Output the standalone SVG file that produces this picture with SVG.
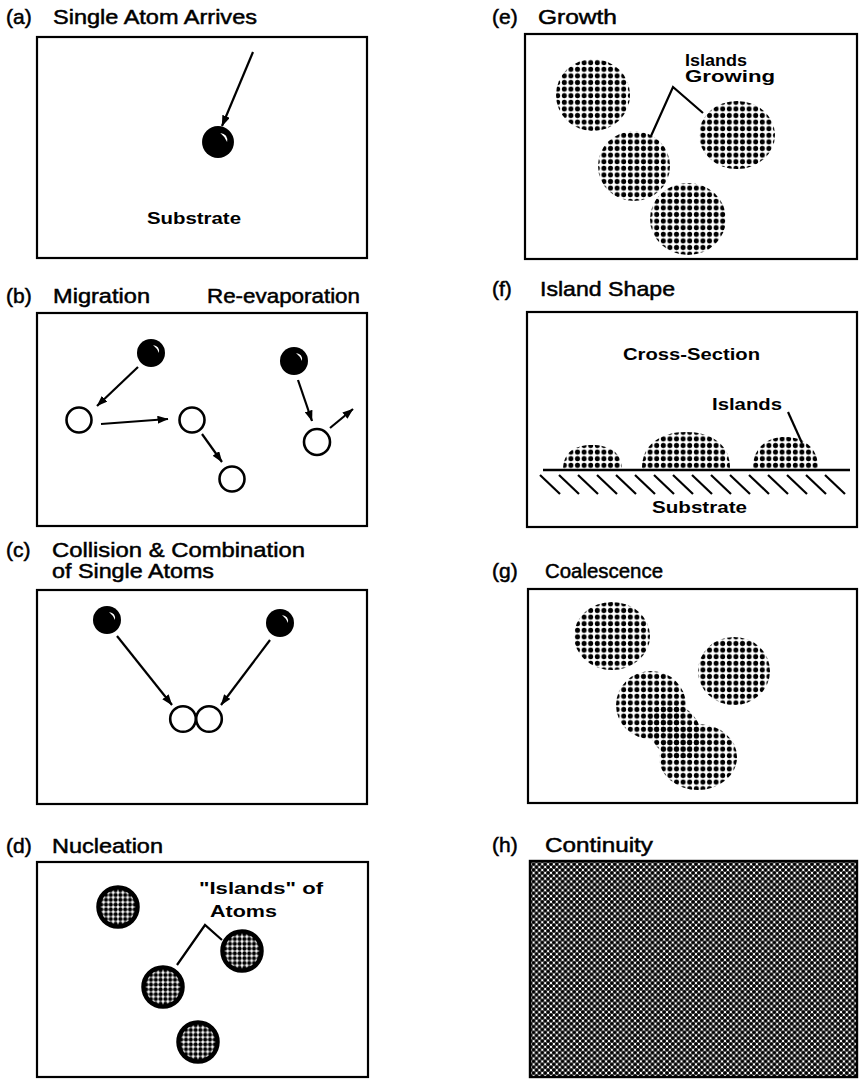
<svg xmlns="http://www.w3.org/2000/svg" xmlns:xlink="http://www.w3.org/1999/xlink" width="859" height="1079" viewBox="0 0 859 1079">
  <style>
    .title { font-family: "Liberation Sans", Arial, sans-serif; font-size: 21px; fill: #000; stroke: #000; stroke-width: 0.5; }
    .label { font-family: "Liberation Sans", Arial, sans-serif; font-size: 16.5px; font-weight: bold; fill: #000; }
    .frame { fill: #fff; stroke: #000; stroke-width: 2.2; }
    .open { fill: #fff; stroke: #000; stroke-width: 2.6; }
    .arrow { fill: none; stroke: #000; stroke-width: 2.2; marker-end: url(#head); }
    .leader { fill: none; stroke: #000; stroke-width: 2.2; stroke-linejoin: miter; }
    .dots { fill: url(#dotFill); }
    .hatch { stroke: #000; stroke-width: 2.2; }
  </style>
  <defs>
    <marker id="head" viewBox="0 0 11 8" refX="10.5" refY="4" markerWidth="11" markerHeight="8" markerUnits="userSpaceOnUse" orient="auto">
      <path d="M0,0 L11,4 L0,8 Z" fill="#000"/>
    </marker>
    <!-- halftone dots used for the growing islands -->
    <pattern id="dotFill" width="6.6" height="6.6" patternUnits="userSpaceOnUse">
      <circle cx="3.3" cy="3.3" r="2.5" fill="#000"/>
    </pattern>
    <!-- tight dot grid for the small nuclei -->
    <pattern id="nucleusFill" width="4.8" height="4.8" patternUnits="userSpaceOnUse">
      <rect width="4.8" height="4.8" fill="#fff"/>
      <circle cx="2.4" cy="2.4" r="2.1" fill="#000"/>
    </pattern>
    <!-- staggered dense dots for the continuous film -->
    <pattern id="filmFill" width="5.8" height="5.8" patternUnits="userSpaceOnUse">
      <rect width="5.8" height="5.8" fill="#fff"/>
      <circle cx="0" cy="0" r="2.0" fill="#000"/>
      <circle cx="5.8" cy="0" r="2.0" fill="#000"/>
      <circle cx="0" cy="5.8" r="2.0" fill="#000"/>
      <circle cx="5.8" cy="5.8" r="2.0" fill="#000"/>
      <circle cx="2.9" cy="2.9" r="2.0" fill="#000"/>
    </pattern>
    <!-- single arriving atom: solid ball with a crescent highlight -->
    <g id="atom">
      <circle r="14" fill="#000"/>
      <path d="M2,-8 Q9,-7 8,0 Q6,-5 2,-8 Z" fill="#fff"/>
    </g>
    <g id="nucleus">
      <circle r="19.5" fill="url(#nucleusFill)" stroke="#000" stroke-width="4.5"/>
    </g>
  </defs>

  <rect width="859" height="1079" fill="#fff"/>

  <!-- (a) single atom arrives -->
  <g id="panel-a">
    <text class="title" x="6" y="24">(a)</text>
    <text class="title" x="53" y="24" textLength="204" lengthAdjust="spacingAndGlyphs">Single Atom Arrives</text>
    <rect class="frame" x="37" y="37" width="330" height="221"/>
    <g id="a-atom"><use xlink:href="#atom" transform="translate(218,142) scale(1.14)"/></g>
    <text class="label" x="147" y="224" textLength="94" lengthAdjust="spacingAndGlyphs">Substrate</text>
  </g>

  <!-- (b) migration and re-evaporation -->
  <g id="panel-b">
    <text class="title" x="6" y="303">(b)</text>
    <text class="title" x="53" y="303" textLength="97" lengthAdjust="spacingAndGlyphs">Migration</text>
    <text class="title" x="207" y="303" textLength="153" lengthAdjust="spacingAndGlyphs">Re-evaporation</text>
    <rect class="frame" x="37" y="313" width="330" height="213"/>
    <g id="b-atom-1"><use xlink:href="#atom" x="151" y="353"/></g>
    <g id="b-site-1"><circle class="open" cx="79" cy="420" r="12.5"/></g>
    <g id="b-site-2"><circle class="open" cx="192" cy="420" r="12.5"/></g>
    <g id="b-site-3"><circle class="open" cx="232" cy="479" r="12.5"/></g>
    <g id="b-atom-2"><use xlink:href="#atom" x="294" y="361"/></g>
    <g id="b-site-4"><circle class="open" cx="317" cy="442" r="13"/></g>
  </g>

  <!-- (c) collision and combination -->
  <g id="panel-c">
    <text class="title" x="6" y="557">(c)</text>
    <text class="title" x="52" y="557" textLength="253" lengthAdjust="spacingAndGlyphs">Collision &amp; Combination</text>
    <text class="title" x="52" y="578" textLength="162" lengthAdjust="spacingAndGlyphs">of Single Atoms</text>
    <rect class="frame" x="37" y="590" width="330" height="214"/>
    <g id="c-atom-1"><use xlink:href="#atom" x="107" y="620"/></g>
    <g id="c-atom-2"><use xlink:href="#atom" x="280" y="623"/></g>
    <g id="c-pair">
      <circle class="open" cx="183" cy="719" r="12.8"/>
      <circle class="open" cx="209" cy="719" r="12.8"/>
    </g>
  </g>

  <!-- (d) nucleation -->
  <g id="panel-d">
    <text class="title" x="6" y="853">(d)</text>
    <text class="title" x="52" y="853" textLength="111" lengthAdjust="spacingAndGlyphs">Nucleation</text>
    <rect class="frame" x="37" y="862" width="331" height="215"/>
    <g id="d-island-1"><use xlink:href="#nucleus" x="118" y="907"/></g>
    <g id="d-island-2"><use xlink:href="#nucleus" x="242" y="951"/></g>
    <g id="d-island-3"><use xlink:href="#nucleus" x="163" y="987"/></g>
    <g id="d-island-4"><use xlink:href="#nucleus" x="198" y="1042"/></g>
    <text class="label" x="199" y="894" textLength="124" lengthAdjust="spacingAndGlyphs">"Islands" of</text>
    <text class="label" x="210" y="917" textLength="67" lengthAdjust="spacingAndGlyphs">Atoms</text>
  </g>

  <!-- (e) growth -->
  <g id="panel-e">
    <text class="title" x="492" y="24">(e)</text>
    <text class="title" x="538" y="24" textLength="79" lengthAdjust="spacingAndGlyphs">Growth</text>
    <rect class="frame" x="525" y="34" width="332" height="225"/>
    <g id="e-island-1"><ellipse class="dots" cx="593" cy="95" rx="37" ry="36"/></g>
    <g id="e-island-2"><ellipse class="dots" cx="634" cy="166" rx="36" ry="35"/></g>
    <g id="e-island-3"><ellipse class="dots" cx="737" cy="135" rx="38" ry="34"/></g>
    <g id="e-island-4"><ellipse class="dots" cx="688" cy="219" rx="38" ry="36"/></g>
    <text class="label" x="685" y="66" textLength="62" lengthAdjust="spacingAndGlyphs">Islands</text>
    <text class="label" x="685" y="82" textLength="90" lengthAdjust="spacingAndGlyphs">Growing</text>
  </g>

  <!-- (f) island shape, cross-section -->
  <g id="panel-f">
    <text class="title" x="492" y="296">(f)</text>
    <text class="title" x="540" y="296" textLength="135" lengthAdjust="spacingAndGlyphs">Island Shape</text>
    <rect class="frame" x="527" y="312" width="330" height="215"/>
    <text class="label" x="623" y="360" textLength="137" lengthAdjust="spacingAndGlyphs">Cross-Section</text>
    <text class="label" x="712" y="410" textLength="70" lengthAdjust="spacingAndGlyphs">Islands</text>
    <g id="f-island-1"><path class="dots" d="M563,470 C563,452 575,445 592,445 C609,445 622,452 622,470 Z"/></g>
    <g id="f-island-2"><path class="dots" d="M642,470 C641,445 660,432 686,432 C712,432 731,445 730,470 Z"/></g>
    <g id="f-island-3"><path class="dots" d="M753,470 C752,447 768,437 785,437 C803,437 819,447 818,470 Z"/></g>
    <g id="f-substrate">
      <line x1="543" y1="470" x2="850" y2="470" stroke="#000" stroke-width="2.6"/>
      <g class="hatch">
        <line x1="540" y1="475" x2="560" y2="494"/>
        <line x1="559" y1="475" x2="579" y2="494"/>
        <line x1="578" y1="475" x2="598" y2="494"/>
        <line x1="597" y1="475" x2="617" y2="494"/>
        <line x1="616" y1="475" x2="636" y2="494"/>
        <line x1="635" y1="475" x2="655" y2="494"/>
        <line x1="654" y1="475" x2="674" y2="494"/>
        <line x1="673" y1="475" x2="693" y2="494"/>
        <line x1="692" y1="475" x2="712" y2="494"/>
        <line x1="711" y1="475" x2="731" y2="494"/>
        <line x1="730" y1="475" x2="750" y2="494"/>
        <line x1="749" y1="475" x2="769" y2="494"/>
        <line x1="768" y1="475" x2="788" y2="494"/>
        <line x1="787" y1="475" x2="807" y2="494"/>
        <line x1="806" y1="475" x2="826" y2="494"/>
        <line x1="825" y1="475" x2="845" y2="494"/>
      </g>
      <text class="label" x="652" y="513" textLength="95" lengthAdjust="spacingAndGlyphs">Substrate</text>
    </g>
  </g>

  <!-- (g) coalescence -->
  <g id="panel-g">
    <text class="title" x="492" y="578">(g)</text>
    <text class="title" x="545" y="578" textLength="118" lengthAdjust="spacingAndGlyphs">Coalescence</text>
    <rect class="frame" x="528" y="589" width="329" height="214"/>
    <g id="g-island-1"><ellipse class="dots" cx="612" cy="636" rx="38" ry="34"/></g>
    <g id="g-island-2"><ellipse class="dots" cx="734" cy="671" rx="36" ry="34"/></g>
    <g id="g-island-merged">
      <ellipse class="dots" cx="651" cy="705" rx="35" ry="34"/>
      <ellipse class="dots" cx="698" cy="757" rx="39" ry="33"/>
      <!-- neck joining the two lobes, tilted along their axis -->
      <path class="dots" d="M654.9,708.7 A30,24 48 1,1 695.1,753.3 A30,24 48 1,1 654.9,708.7 Z"/>
    </g>
  </g>

  <!-- (h) continuity -->
  <g id="panel-h">
    <text class="title" x="492" y="852">(h)</text>
    <text class="title" x="545" y="852" textLength="108" lengthAdjust="spacingAndGlyphs">Continuity</text>
    <rect x="530" y="861" width="327" height="216" fill="url(#filmFill)" stroke="#000" stroke-width="2.4"/>
  </g>

  <!-- arrows and leader lines -->
  <g id="connectors">
    <line class="arrow" x1="253" y1="52" x2="222" y2="126"/>
    <line class="arrow" x1="138" y1="367" x2="97" y2="406"/>
    <line class="arrow" x1="101" y1="424" x2="168" y2="419"/>
    <line class="arrow" x1="202" y1="434" x2="222" y2="462"/>
    <line class="arrow" x1="298" y1="380" x2="312" y2="421"/>
    <line class="arrow" x1="330" y1="428" x2="353" y2="409"/>
    <line class="arrow" x1="117" y1="636" x2="172" y2="705"/>
    <line class="arrow" x1="270" y1="640" x2="221" y2="705"/>
    <polyline class="leader" points="177,965 205,925 222,940"/>
    <polyline class="leader" points="651,136 673,87 703,113"/>
    <line class="leader" x1="788" y1="412" x2="802" y2="443"/>
  </g>
</svg>
